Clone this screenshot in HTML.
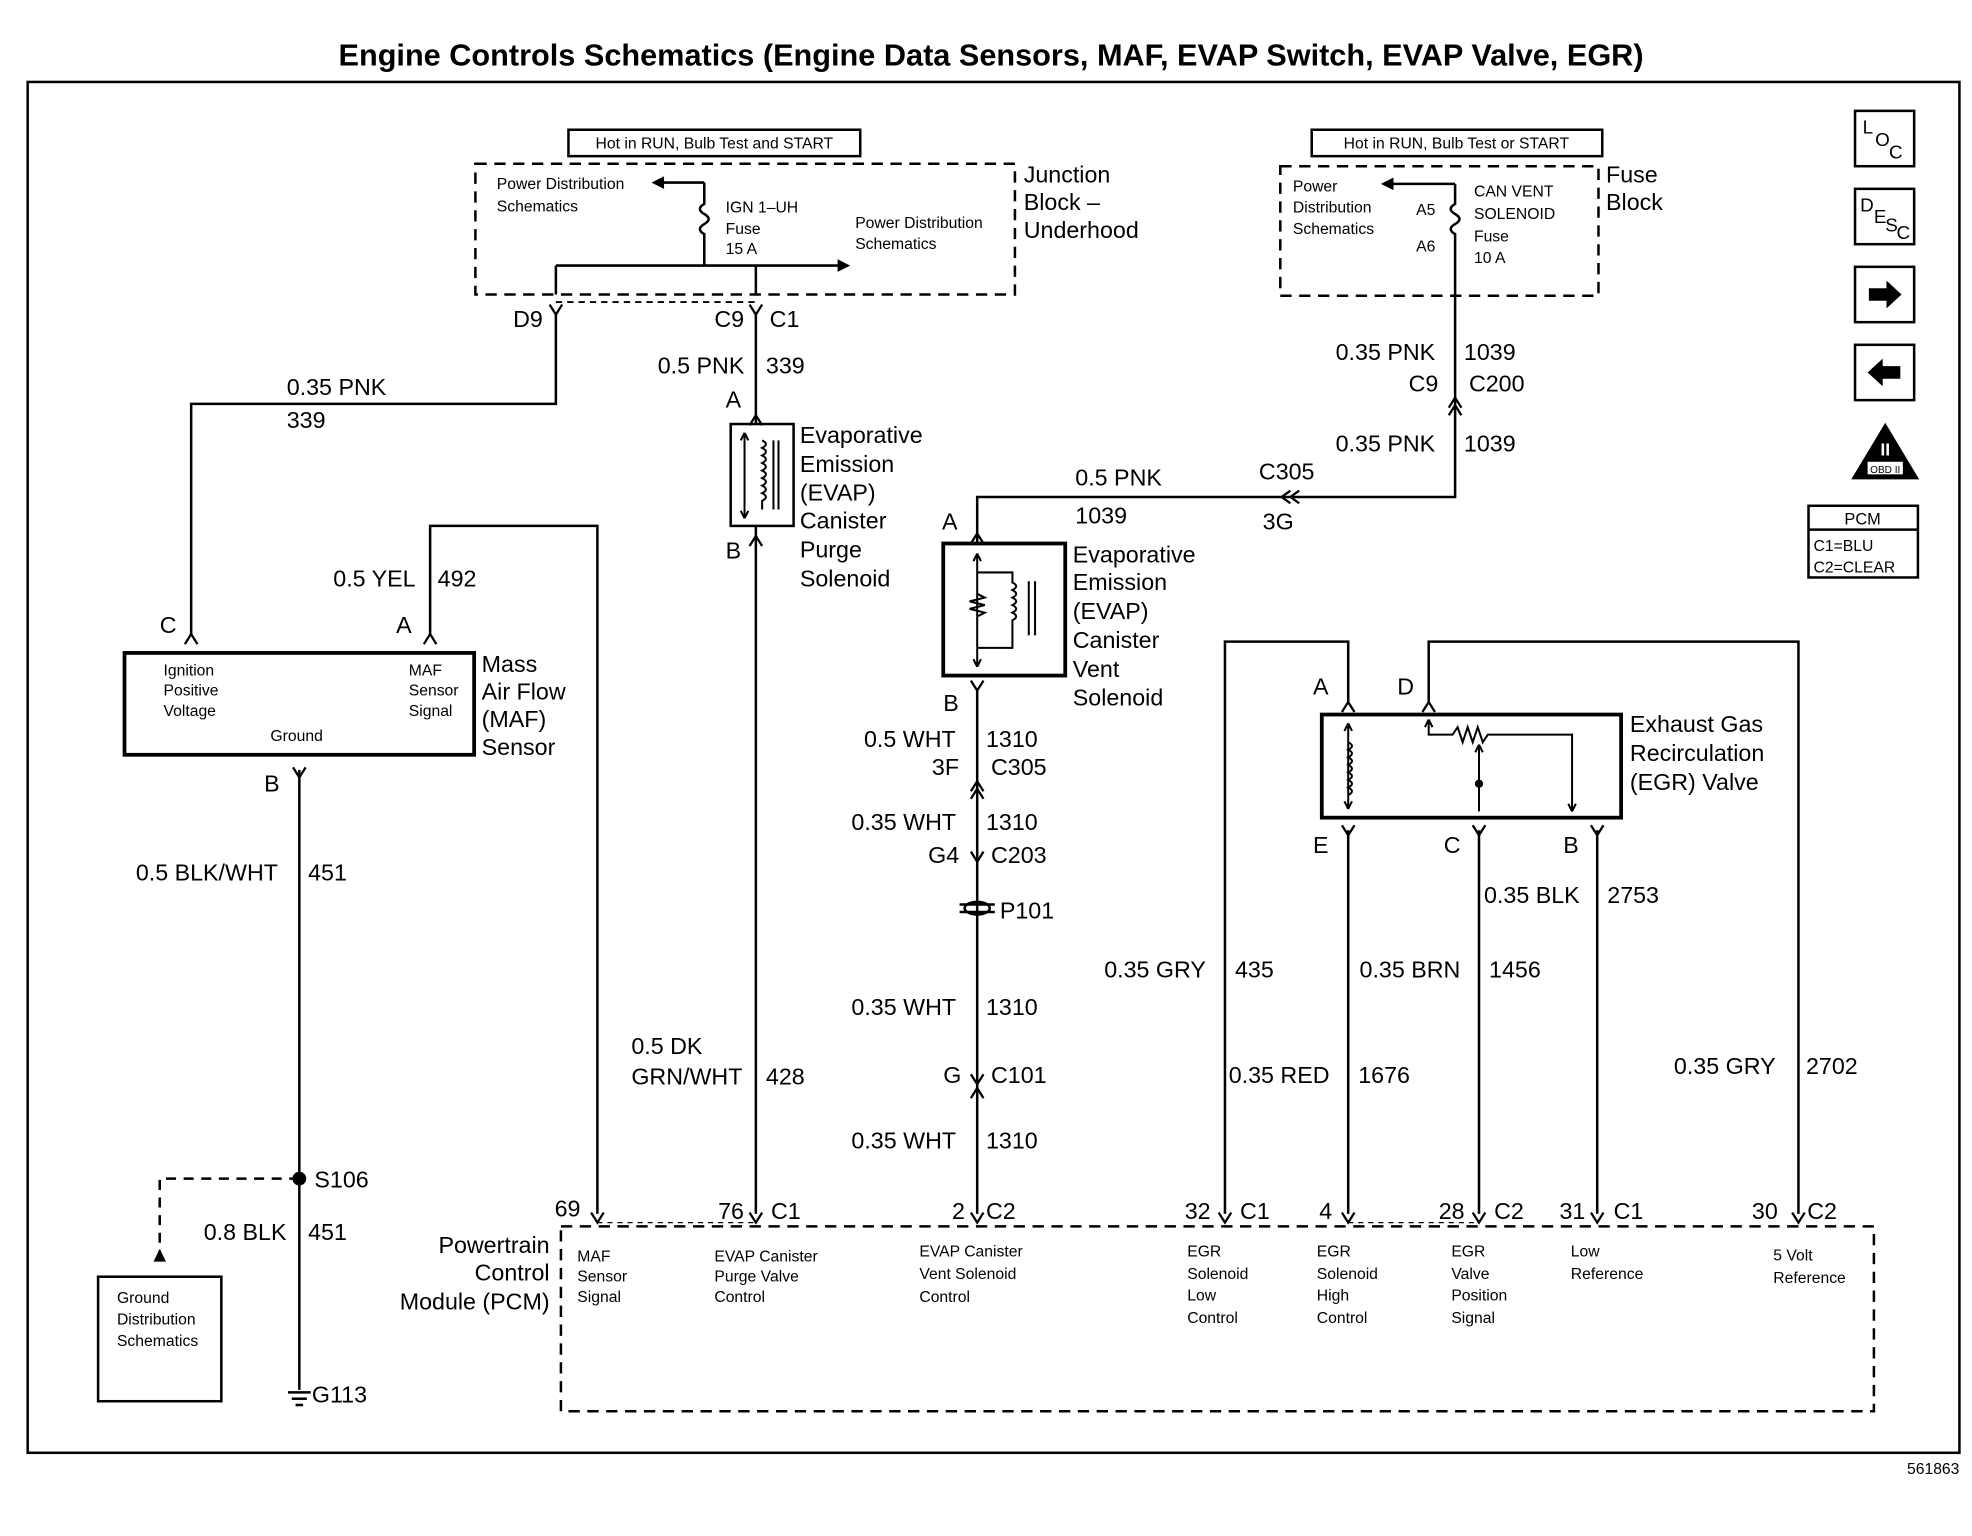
<!DOCTYPE html>
<html><head><meta charset="utf-8"><style>
html,body{margin:0;padding:0;background:#fff}
svg{display:block}
text{font-family:"Liberation Sans",Arial,sans-serif;fill:#000}
.l{font-size:18.5px}
.s{font-size:13px}
.t{font-size:12.5px}
</style></head><body>
<svg width="1972" height="1536" viewBox="0 0 1568 1221" xmlns="http://www.w3.org/2000/svg">
<defs>
<g id="cv"><path d="M-5,-6 L0,2 L5,-6" fill="none" stroke="#000" stroke-width="1.8"/></g>
<g id="cu"><path d="M-5,6 L0,-2 L5,6" fill="none" stroke="#000" stroke-width="1.8"/></g>
</defs>
<rect width="1568" height="1221" fill="#fff"/>
<text x="788" y="52" font-size="24.4" font-weight="bold" text-anchor="middle">Engine Controls Schematics (Engine Data Sensors, MAF, EVAP Switch, EVAP Valve, EGR)</text>
<rect x="22" y="65" width="1536" height="1090" fill="none" stroke="#000" stroke-width="2"/>
<text x="1558" y="1172" class="t" text-anchor="end" font-size="11">561863</text>

<g stroke="#000" stroke-width="2" fill="none">
<rect x="378" y="130" width="429" height="104" stroke-dasharray="9,6"/>
<rect x="452" y="103" width="232" height="21"/>
<line x1="560" y1="145" x2="525" y2="145"/>
<path d="M560,145 V162 q-7,4 0,8 q7,4 0,8 q-7,4 0,8 V211"/>
<line x1="442" y1="211" x2="668" y2="211"/>
<line x1="442" y1="211" x2="442" y2="234"/>
<line x1="601" y1="211" x2="601" y2="234"/>
<line x1="442" y1="240" x2="601" y2="240" stroke-dasharray="5,4" stroke-width="1.5"/>
<path d="M442,250 V321 H152 V505"/>
<path d="M601,250 V337"/>
<rect x="581" y="337" width="50" height="81"/>
<path d="M601,418 V965"/>
<path d="M342,505 V418 H475 V965"/>
<rect x="99" y="519" width="278" height="81" stroke-width="3"/>
<path d="M238,612 V1105"/>
<path d="M238,937 H127 V1000" stroke-dasharray="8,6"/>
<rect x="78" y="1015" width="98" height="99"/>
<rect x="1018" y="132" width="253" height="103" stroke-dasharray="9,6"/>
<rect x="1043" y="103" width="231" height="21"/>
<line x1="1157" y1="146" x2="1105" y2="146"/>
<path d="M1157,146 V162 q-7,4 0,8 q7,4 0,8 q-7,4 0,8 V235"/>
<path d="M1157,235 V395 H777 V432"/>
<rect x="750" y="432" width="97" height="105" stroke-width="3"/>
<path d="M777,547 V965"/>
<path d="M1072,558 V510 H974 V965"/>
<path d="M1136,558 V510 H1430 V965"/>
<rect x="1051" y="568" width="238" height="82" stroke-width="3"/>
<path d="M1072,660 V965"/>
<path d="M1176,660 V965"/>
<path d="M1270,660 V965"/>
<path d="M446,975 H1490 V1122 H446 Z" stroke-dasharray="9,6"/>
<rect x="1475" y="88" width="47" height="44"/>
<rect x="1475" y="150" width="47" height="44"/>
<rect x="1475" y="212" width="47" height="44"/>
<rect x="1475" y="274" width="47" height="44"/>
<rect x="1438" y="402" width="87" height="57"/>
<line x1="1438" y1="421" x2="1525" y2="421"/>
</g>
<path d="M518,145 l10,-5 v10z"/>
<path d="M676,211 l-10,-5 v10z"/>
<path d="M1098,146 l10,-5 v10z"/>
<path d="M127,993 l-5,10 h10z"/>
<path d="M1512,234 l-12,-11 v6 h-14 v10 h14 v6z"/>
<path d="M1485,296 l12,-11 v6 h14 v10 h-14 v6z"/>
<path d="M1499,336 l27,45 h-54z"/>
<rect x="1485" y="367" width="28" height="10" fill="#fff"/>
<text x="1499" y="376" font-size="8" text-anchor="middle">OBD II</text>
<text x="1499" y="362" font-size="14" font-weight="bold" text-anchor="middle" style="fill:#fff">II</text>
<use href="#cv" x="442" y="248"/><use href="#cv" x="601" y="248"/>
<use href="#cu" x="601" y="332"/><use href="#cu" x="601" y="428"/>
<use href="#cu" x="152" y="506"/><use href="#cu" x="342" y="506"/>
<use href="#cv" x="238" y="616"/>
<use href="#cu" x="1157" y="318"/><use href="#cu" x="1157" y="324"/>
<path d="M1026,390 l-7,5 l7,5 M1033,390 l-7,5 l7,5" fill="none" stroke="#000" stroke-width="1.8"/>
<use href="#cu" x="777" y="426"/><use href="#cv" x="777" y="547"/>
<use href="#cu" x="777" y="623"/><use href="#cu" x="777" y="629"/>
<use href="#cv" x="777" y="683"/>
<use href="#cv" x="777" y="860"/><use href="#cu" x="777" y="867"/>
<use href="#cu" x="1072" y="560"/><use href="#cu" x="1136" y="560"/>
<use href="#cv" x="1072" y="662"/><use href="#cv" x="1176" y="662"/><use href="#cv" x="1270" y="662"/>
<use href="#cv" x="475" y="970"/><use href="#cv" x="601" y="970"/><use href="#cv" x="777" y="970"/>
<use href="#cv" x="974" y="970"/><use href="#cv" x="1072" y="970"/><use href="#cv" x="1176" y="970"/>
<use href="#cv" x="1270" y="970"/><use href="#cv" x="1430" y="970"/>
<line x1="475" y1="972" x2="601" y2="972" stroke="#000" stroke-dasharray="4,4"/>
<line x1="1072" y1="972" x2="1176" y2="972" stroke="#000" stroke-dasharray="4,4"/>
<circle cx="238" cy="937" r="5.5"/>
<g stroke="#000" stroke-width="2"><line x1="763" y1="719" x2="791" y2="719"/><line x1="763" y1="725" x2="791" y2="725"/></g>
<ellipse cx="777" cy="722" rx="10" ry="5" fill="none" stroke="#000" stroke-width="2"/>
<g stroke="#000" stroke-width="2"><line x1="229" y1="1107" x2="247" y2="1107"/><line x1="232" y1="1112" x2="244" y2="1112"/><line x1="235" y1="1117" x2="241" y2="1117"/></g>
<g stroke="#000" stroke-width="1.6" fill="none">
<path d="M592,344 V412 M592,344 l-3,6 M592,344 l3,6 M592,412 l-3,-6 M592,412 l3,-6"/>
<path d="M606,350 q6,3 0,6 q6,3 0,6 q6,3 0,6 q6,3 0,6 q6,3 0,6 q6,3 0,6 q6,3 0,6 q6,3 0,6 V405"/>
<line x1="615" y1="350" x2="615" y2="405"/><line x1="619" y1="350" x2="619" y2="405"/>
<path d="M777,440 V530 M777,440 l-3,6 M777,440 l3,6 M777,530 l-3,-6 M777,530 l3,-6"/>
<path d="M777,455 H805 V463 q6,3 0,6 q6,3 0,6 q6,3 0,6 q6,3 0,6 q6,3 0,6 V515 H777"/>
<path d="M777,472 l6,3 l-12,3 l12,3 l-12,3 l12,3 l-6,3"/>
<line x1="818" y1="462" x2="818" y2="505"/><line x1="823" y1="462" x2="823" y2="505"/>
<path d="M1072,575 V643 M1072,575 l-3,6 M1072,575 l3,6 M1072,643 l-3,-6 M1072,643 l3,-6"/>
<path d="M1072,590 q6,3 0,6 q6,3 0,6 q6,3 0,6 q6,3 0,6 q6,3 0,6 q6,3 0,6 q6,3 0,6"/>
<path d="M1136,572 V584 H1155 l4,-6 l4,12 l4,-12 l4,12 l4,-12 l4,12 l4,-6 H1250 V645 M1136,572 l-3,6 M1136,572 l3,6"/>
<path d="M1176,592 V645 M1176,592 l-3,6 M1176,592 l3,6"/>
<path d="M1250,645 l-3,-6 M1250,645 l3,-6"/>
<circle cx="1176" cy="623" r="2.5" fill="#000"/>
</g>

<text x="568" y="118" class="t" text-anchor="middle">Hot in RUN, Bulb Test and START</text>
<text x="1158" y="118" class="t" text-anchor="middle">Hot in RUN, Bulb Test or START</text>
<g class="t">
<text x="395" y="150">Power Distribution</text><text x="395" y="168">Schematics</text>
<text x="577" y="169">IGN 1–UH</text><text x="577" y="186">Fuse</text><text x="577" y="202">15 A</text>
<text x="680" y="181">Power Distribution</text><text x="680" y="198">Schematics</text>
<text x="1028" y="152">Power</text><text x="1028" y="169">Distribution</text><text x="1028" y="186">Schematics</text>
<text x="1126" y="171">A5</text><text x="1126" y="200">A6</text>
<text x="1172" y="156">CAN VENT</text><text x="1172" y="174">SOLENOID</text><text x="1172" y="192">Fuse</text><text x="1172" y="209">10 A</text>
<text x="130" y="537">Ignition</text><text x="130" y="553">Positive</text><text x="130" y="569">Voltage</text>
<text x="215" y="589">Ground</text>
<text x="325" y="537">MAF</text><text x="325" y="553">Sensor</text><text x="325" y="569">Signal</text>
<text x="93" y="1036">Ground</text><text x="93" y="1053">Distribution</text><text x="93" y="1070">Schematics</text>
<text x="459" y="1003">MAF</text><text x="459" y="1019">Sensor</text><text x="459" y="1035">Signal</text>
<text x="568" y="1003">EVAP Canister</text><text x="568" y="1019">Purge Valve</text><text x="568" y="1035">Control</text>
<text x="731" y="999">EVAP Canister</text><text x="731" y="1017">Vent Solenoid</text><text x="731" y="1035">Control</text>
<text x="944" y="999">EGR</text><text x="944" y="1017">Solenoid</text><text x="944" y="1034">Low</text><text x="944" y="1052">Control</text>
<text x="1047" y="999">EGR</text><text x="1047" y="1017">Solenoid</text><text x="1047" y="1034">High</text><text x="1047" y="1052">Control</text>
<text x="1154" y="999">EGR</text><text x="1154" y="1017">Valve</text><text x="1154" y="1034">Position</text><text x="1154" y="1052">Signal</text>
<text x="1249" y="999">Low</text><text x="1249" y="1017">Reference</text>
<text x="1410" y="1002">5 Volt</text><text x="1410" y="1020">Reference</text>
<text x="1481" y="417" text-anchor="middle" font-size="13">PCM</text>
<text x="1442" y="438">C1=BLU</text><text x="1442" y="455">C2=CLEAR</text>
</g>
<g font-size="15"><text x="1481" y="106">L</text><text x="1491" y="116">O</text><text x="1502" y="126">C</text>
<text x="1479" y="168">D</text><text x="1490" y="177">E</text><text x="1499" y="184">S</text><text x="1508" y="190">C</text></g>
<g class="l">
<text x="814" y="145">Junction</text><text x="814" y="167">Block –</text><text x="814" y="189">Underhood</text>
<text x="1277" y="145">Fuse</text><text x="1277" y="167">Block</text>
<text x="408" y="260">D9</text><text x="568" y="260">C9</text><text x="612" y="260">C1</text>
<text x="228" y="314">0.35 PNK</text><text x="228" y="340">339</text>
<text x="523" y="297">0.5 PNK</text><text x="609" y="297">339</text>
<text x="577" y="324">A</text><text x="577" y="444">B</text>
<text x="636" y="352">Evaporative</text><text x="636" y="375">Emission</text><text x="636" y="398">(EVAP)</text><text x="636" y="420">Canister</text><text x="636" y="443">Purge</text><text x="636" y="466">Solenoid</text>
<text x="265" y="466">0.5 YEL</text><text x="348" y="466">492</text>
<text x="127" y="503">C</text><text x="315" y="503">A</text>
<text x="383" y="534">Mass</text><text x="383" y="556">Air Flow</text><text x="383" y="578">(MAF)</text><text x="383" y="600">Sensor</text>
<text x="210" y="629">B</text>
<text x="108" y="700">0.5 BLK/WHT</text><text x="245" y="700">451</text>
<text x="250" y="944">S106</text>
<text x="162" y="986">0.8 BLK</text><text x="245" y="986">451</text>
<text x="248" y="1115">G113</text>
<text x="502" y="838">0.5 DK</text><text x="502" y="862">GRN/WHT</text><text x="609" y="862">428</text>
<text x="1062" y="286">0.35 PNK</text><text x="1164" y="286">1039</text>
<text x="1120" y="311">C9</text><text x="1168" y="311">C200</text>
<text x="1062" y="359">0.35 PNK</text><text x="1164" y="359">1039</text>
<text x="855" y="386">0.5 PNK</text><text x="855" y="416">1039</text>
<text x="1001" y="381">C305</text><text x="1004" y="421">3G</text>
<text x="749" y="421">A</text><text x="750" y="565">B</text>
<text x="853" y="447">Evaporative</text><text x="853" y="469">Emission</text><text x="853" y="492">(EVAP)</text><text x="853" y="515">Canister</text><text x="853" y="538">Vent</text><text x="853" y="561">Solenoid</text>
<text x="687" y="594">0.5 WHT</text><text x="784" y="594">1310</text>
<text x="741" y="616">3F</text><text x="788" y="616">C305</text>
<text x="677" y="660">0.35 WHT</text><text x="784" y="660">1310</text>
<text x="738" y="686">G4</text><text x="788" y="686">C203</text>
<text x="795" y="730">P101</text>
<text x="677" y="807">0.35 WHT</text><text x="784" y="807">1310</text>
<text x="750" y="861">G</text><text x="788" y="861">C101</text>
<text x="677" y="913">0.35 WHT</text><text x="784" y="913">1310</text>
<text x="1044" y="552">A</text><text x="1111" y="552">D</text>
<text x="1296" y="582">Exhaust Gas</text><text x="1296" y="605">Recirculation</text><text x="1296" y="628">(EGR) Valve</text>
<text x="1044" y="678">E</text><text x="1148" y="678">C</text><text x="1243" y="678">B</text>
<text x="1180" y="718">0.35 BLK</text><text x="1278" y="718">2753</text>
<text x="878" y="777">0.35 GRY</text><text x="982" y="777">435</text>
<text x="1081" y="777">0.35 BRN</text><text x="1184" y="777">1456</text>
<text x="977" y="861">0.35 RED</text><text x="1080" y="861">1676</text>
<text x="1331" y="854">0.35 GRY</text><text x="1436" y="854">2702</text>
<text x="441" y="967">69</text>
<text x="571" y="969">76</text><text x="613" y="969">C1</text>
<text x="757" y="969">2</text><text x="784" y="969">C2</text>
<text x="942" y="969">32</text><text x="986" y="969">C1</text>
<text x="1049" y="969">4</text>
<text x="1144" y="969">28</text><text x="1188" y="969">C2</text>
<text x="1240" y="969">31</text><text x="1283" y="969">C1</text>
<text x="1393" y="969">30</text><text x="1437" y="969">C2</text>
<text x="437" y="996" text-anchor="end">Powertrain</text><text x="437" y="1018" text-anchor="end">Control</text><text x="437" y="1041" text-anchor="end">Module (PCM)</text>
</g>
</svg>
</body></html>
